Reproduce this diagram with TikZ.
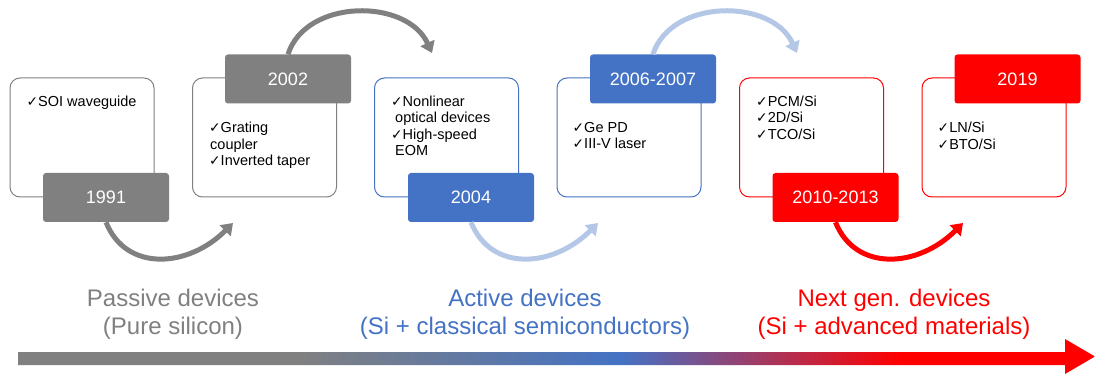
\documentclass[tikz,border=0pt]{standalone}
\usepackage{fontspec}
\setmainfont{Liberation Sans}
\newfontfamily\symf{DejaVu Sans}[Scale=0.95]
\usetikzlibrary{positioning,arrows.meta}

\definecolor{sigray}{RGB}{128,128,128}
\definecolor{siblue}{RGB}{68,114,196}
\definecolor{sibluelight}{RGB}{180,199,231}
\definecolor{sired}{RGB}{255,0,0}

\newcommand{\chk}{{\symf ✓}}

\pgfdeclarehorizontalshading{timeline}{100bp}{color(0bp)=(sigray); color(38bp)=(sigray); color(53bp)=(siblue); color(66bp)=(sired); color(100bp)=(sired)}

\tikzset{
  card/.style={draw=#1, line width=1pt, rounded corners=10pt, minimum width=144pt, minimum height=119pt},
  year/.style={fill=#1, text=white, rounded corners=3pt, minimum width=126pt, minimum height=49pt, font=\fontsize{18}{18}\selectfont},
  items/.style={inner sep=0pt, align=left, font=\fontsize{14.5}{16.5}\selectfont},
  era/.style={text=#1, align=center, font=\fontsize{24}{28}\selectfont},
  hop/.style={draw=#1, line width=5pt, -{Triangle[width=15pt,length=11pt]}},
}

\begin{document}
\begin{tikzpicture}[x=1pt, y=-1pt]
	\useasboundingbox (0,0) rectangle (1095,374);

	% cards
	\node[card=sigray] (b1) at (82,137.5) {};
	\node[card=sigray] (b2) at (264.5,137.5) {};
	\node[card=siblue] (b3) at (446.5,137.5) {};
	\node[card=siblue] (b4) at (629,137.5) {};
	\node[card=sired] (b5) at (811.5,137.5) {};
	\node[card=sired] (b6) at (994,137.5) {};

	% years
	\node[year=sigray] (y1991) at (106,197.5) {1991};
	\node[year=sigray] (y2002) at (288,79) {2002};
	\node[year=siblue] (y2004) at (471,197.5) {2004};
	\node[year=siblue] (y2006) at (653,79) {2006-2007};
	\node[year=sired] (y2010) at (835.5,197.5) {2010-2013};
	\node[year=sired] (y2019) at (1017.5,79) {2019};

	% items
	\node[items, below right=18pt and 17pt of b1.north west] (i1) {\chk SOI waveguide};
	\node[items, below right=44.5pt and 17pt of b2.north west] (i2) {\chk Grating\\\hspace*{1pt}coupler\\\chk Inverted taper};
	\node[items, below right=18pt and 17pt of b3.north west] (i3) {\chk Nonlinear\\\hspace*{4pt}optical devices\\\chk High-speed\\\hspace*{4pt}EOM};
	\node[items, below right=44.5pt and 16pt of b4.north west] (i4) {\chk Ge PD\\\chk III-V laser};
	\node[items, below right=18pt and 17pt of b5.north west] (i5) {\chk PCM/Si\\\chk 2D/Si\\\chk TCO/Si};
	\node[items, below right=44.5pt and 16pt of b6.north west] (i6) {\chk LN/Si\\\chk BTO/Si};

	% hops between years
	\coordinate (t1) at (233,223);
	\coordinate (t2) at (432,53);
	\coordinate (t3) at (598,223);
	\coordinate (t4) at (797,53);
	\coordinate (t5) at (963,223);
	\draw[hop=sigray] (y1991.south) .. controls +(20,50) and +(-45,45) .. (t1);
	\draw[hop=sigray] (y2002.north) .. controls +(18,-56) and +(-25,-55) .. (t2);
	\draw[hop=sibluelight] (y2004.south) .. controls +(20,50) and +(-45,45) .. (t3);
	\draw[hop=sibluelight] (y2006.north) .. controls +(18,-56) and +(-25,-55) .. (t4);
	\draw[hop=sired] (y2010.south) .. controls +(20,50) and +(-45,45) .. (t5);

	% eras
	\node[era=sigray] (pas) at (173,314) {Passive devices\\(Pure silicon)};
	\node[era=siblue] (act) at (525,314) {Active devices\\(Si + classical semiconductors)};
	\node[era=sired] (nxt) at (894,314) {Next gen. devices\\(Si + advanced materials)};

	% timeline
	\shade[shading=timeline] (18,352) -- (1065,352) -- (1065,339) -- (1095,356.5) -- (1065,374) -- (1065,365) -- (18,365) -- cycle;
\end{tikzpicture}
\end{document}
